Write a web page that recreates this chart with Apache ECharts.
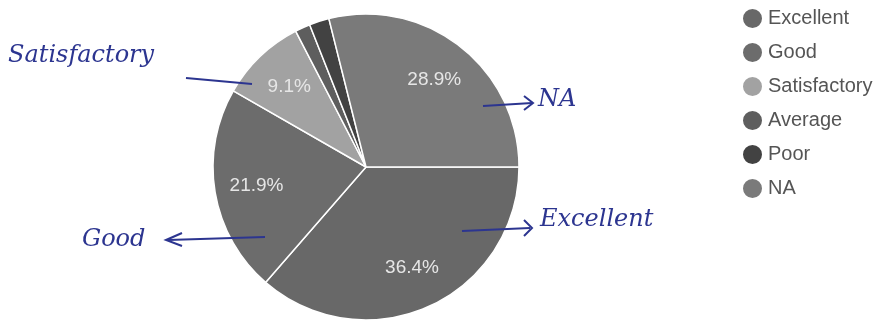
<!DOCTYPE html>
<html>
<head>
<meta charset="utf-8">
<title>Pie</title>
<script src="https://cdn.jsdelivr.net/npm/echarts@6/dist/echarts.min.js"></script>
<style>
  html, body { margin: 0; padding: 0; background: #fff; }
  #chart { width: 878px; height: 327px; }
</style>
</head>
<body>
<div id="chart"></div>
<script>
// ratings, in the order the slices run clockwise from 3 o'clock
const categories = ['Excellent', 'Good', 'Satisfactory', 'Average', 'Poor', 'NA']
const shares = [36.4, 21.9, 9.1, 1.6, 2.1, 28.9]
const sliceColors = ['#686868', '#6c6c6c', '#a2a2a2', '#5e5e5e', '#424242', '#7a7a7a']

const INK = '#2c3590'
const HAND_FONT = "italic 24px 'DejaVu Serif', serif"

const pieData = categories.map((name, i) => ({ name, value: shares[i] }))

const chart = echarts.init(document.getElementById('chart'))
chart.setOption({
  animation: false,
  color: sliceColors,
  legend: {
    orient: 'vertical',
    left: 736,
    top: 2,
    icon: 'circle',
    itemWidth: 21,
    itemHeight: 21,
    itemGap: 11,
    data: categories,
    textStyle: { fontFamily: 'Liberation Sans, Arial, sans-serif', fontSize: 20, color: '#555' },
  },
  series: [
    {
      type: 'pie',
      center: [366, 167],
      radius: [0, 153],
      startAngle: 0,
      clockwise: true,
      data: pieData,
      label: { show: false },
      labelLine: { show: false },
      itemStyle: { borderColor: '#fff', borderWidth: 1.5 },
    },
    {
      // transparent copy, only to place the percentage labels further out
      type: 'pie',
      silent: true,
      center: [366, 167],
      radius: [72, 144],
      startAngle: 0,
      clockwise: true,
      percentPrecision: 1,
      minShowLabelAngle: 15,
      data: pieData,
      itemStyle: { color: 'transparent', borderWidth: 0 },
      labelLine: { show: false },
      label: {
        show: true,
        position: 'inside',
        formatter: '{d}%',
        color: '#e6e6e6',
        fontFamily: 'Liberation Sans, Arial, sans-serif',
        fontSize: 19,
      },
    },
  ],
  // handwritten notes on the scan, drawn over the pie
  graphic: [
    { type: 'text', z: 100, left: 8, top: 44, style: { text: 'Satisfactory', font: HAND_FONT, fill: INK } },
    { type: 'polyline', z: 100, shape: { points: [[186, 78], [252, 84]] }, style: { stroke: INK, lineWidth: 2 } },

    { type: 'text', z: 100, left: 82, top: 228, style: { text: 'Good', font: HAND_FONT, fill: INK } },
    { type: 'polyline', z: 100, shape: { points: [[182, 233], [166, 240], [182, 246]] }, style: { stroke: INK, lineWidth: 2, fill: null } },
    { type: 'polyline', z: 100, shape: { points: [[168, 240], [265, 237]] }, style: { stroke: INK, lineWidth: 2 } },

    { type: 'polyline', z: 100, shape: { points: [[483, 106], [532, 103]] }, style: { stroke: INK, lineWidth: 2 } },
    { type: 'polyline', z: 100, shape: { points: [[524, 96], [533, 103], [524, 110]] }, style: { stroke: INK, lineWidth: 2, fill: null } },
    { type: 'text', z: 100, left: 538, top: 88, style: { text: 'NA', font: HAND_FONT, fill: INK } },

    { type: 'polyline', z: 100, shape: { points: [[462, 231], [530, 228]] }, style: { stroke: INK, lineWidth: 2 } },
    { type: 'polyline', z: 100, shape: { points: [[524, 220], [532, 228], [524, 236]] }, style: { stroke: INK, lineWidth: 2, fill: null } },
    { type: 'text', z: 100, left: 540, top: 208, style: { text: 'Excellent', font: HAND_FONT, fill: INK } },
  ],
})
</script>
</body>
</html>
